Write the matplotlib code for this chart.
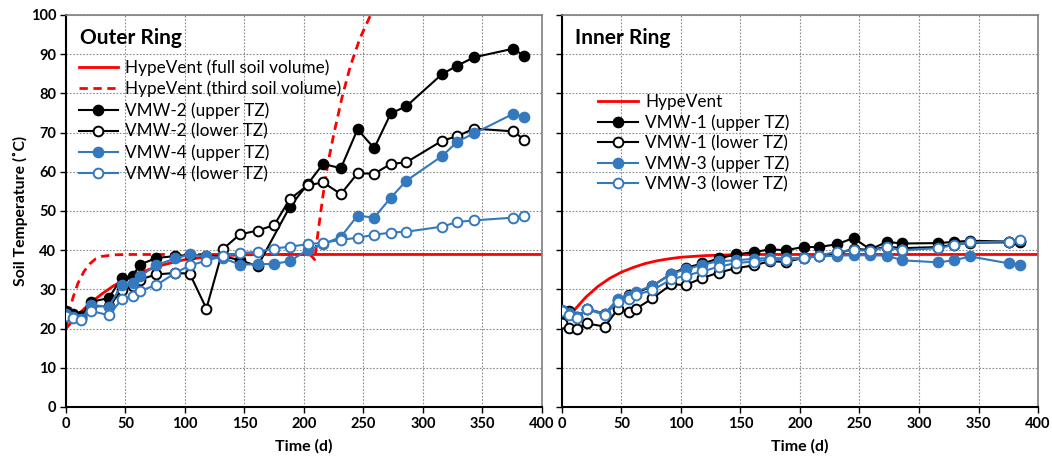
import matplotlib
matplotlib.use("Agg")
import matplotlib.pyplot as plt

plt.rcParams['font.family'] = ['Lato', 'DejaVu Sans']

# sampling days (same for every monitoring well)
days = [0, 6, 13, 21, 36, 47, 56, 62, 76, 92, 104, 118, 132, 146, 161, 175, 188,
        203, 216, 231, 245, 259, 273, 286, 316, 329, 343, 376, 385]

# ---- Outer ring ----
vmw2_upper_days = [0, 6, 13, 21, 36, 47, 56, 62, 76, 92, 104, 118, 132, 146, 161, 188,
                   203, 216, 231, 245, 259, 273, 286, 316, 329, 343, 376, 385]
vmw2_upper = [24.5, 23.8, 23.2, 26.8, 27.8, 33.0, 33.3, 36.3, 38.0, 38.5, 38.8, 38.6, 38.4,
              37.5, 35.9, 51.0, 56.8, 62.0, 60.9, 70.8, 66.0, 74.9, 76.7, 84.9, 87.1,
              89.2, 91.4, 89.5]
vmw2_lower = [23.8, 23.2, 22.8, 25.7, 25.7, 29.8, 30.8, 32.5, 33.8, 34.2, 34.0, 25.1, 40.3,
              44.0, 45.0, 46.4, 53.0, 56.5, 57.3, 54.3, 59.6, 59.5, 62.0, 62.4, 67.9, 69.1,
              71.0, 70.3, 68.2]
vmw4_upper = [23.8, 23.0, 22.5, 26.0, 25.6, 31.2, 31.5, 33.3, 36.2, 37.9, 38.9, 38.4, 38.0,
              36.3, 36.4, 36.5, 37.2, 40.0, 41.5, 43.4, 48.8, 48.3, 53.4, 57.7, 64.0, 67.7,
              69.8, 74.8, 73.9]
vmw4_lower = [23.2, 22.8, 22.3, 24.5, 23.4, 27.5, 28.3, 29.6, 31.1, 34.2, 36.1, 37.3, 38.5,
              39.2, 39.6, 40.4, 40.9, 41.5, 41.9, 42.6, 43.2, 43.9, 44.5, 44.7, 46.0, 47.2,
              47.6, 48.3, 48.8]

# HypeVent model curves
outer_full_days = [0, 10, 20, 30, 40, 50, 60, 70, 80, 90, 100, 120, 140, 160, 400]
outer_full = [20.0, 23.5, 26.4, 28.8, 30.9, 32.5, 33.9, 35.1, 36.1, 36.9, 37.6, 38.3, 38.7,
              38.9, 38.9]
outer_third_days = [0, 3, 6, 10, 15, 20, 25, 30, 40, 50, 205, 209, 212, 216, 220, 225,
                    232, 239, 247, 256, 262]
outer_third = [20.0, 24.5, 28.0, 31.5, 34.5, 36.5, 37.8, 38.4, 38.8, 38.9, 38.9, 37.6,
               45.0, 54.0, 62.0, 69.5, 79.0, 87.0, 94.0, 100.0, 104.0]

# ---- Inner ring ----
vmw1_upper = [24.3, 24.5, 23.0, 25.0, 23.8, 27.3, 28.5, 29.0, 30.9, 34.0, 35.5, 36.6, 37.9,
              38.9, 39.5, 40.2, 40.0, 40.8, 40.8, 41.5, 43.1, 40.2, 42.1, 41.7, 41.8, 42.1,
              42.4, 42.2, 42.0]
vmw1_lower = [21.5, 20.2, 20.0, 21.3, 20.5, 25.0, 24.3, 25.0, 27.7, 31.3, 31.1, 32.9, 34.3,
              35.4, 36.1, 37.2, 37.0, 38.0, 38.5, 39.0, 40.4, 40.0, 40.9, 40.5, 40.8, 41.4,
              41.9, 42.0, 42.4]
vmw3_upper = [24.8, 24.0, 23.0, 25.0, 23.8, 27.6, 28.4, 29.4, 30.9, 34.0, 35.1, 36.3, 37.2,
              37.4, 37.8, 38.0, 37.9, 38.0, 38.4, 38.6, 38.7, 38.7, 38.6, 37.4, 36.9, 37.4,
              38.4, 36.6, 36.2]
vmw3_lower = [24.5, 23.5, 22.6, 24.9, 23.5, 26.8, 27.5, 28.6, 29.8, 32.6, 33.5, 34.6, 35.8,
              36.7, 37.1, 37.6, 37.5, 37.9, 38.6, 39.6, 40.0, 39.9, 40.7, 40.0, 40.5, 41.3,
              42.0, 42.2, 42.6]

inner_days = [0, 10, 20, 30, 40, 50, 60, 70, 80, 90, 100, 120, 140, 160, 400]
inner_model = [20.3, 24.6, 28.0, 30.7, 32.8, 34.4, 35.6, 36.6, 37.3, 37.8, 38.2, 38.6,
               38.8, 38.9, 38.9]

RED = '#FF0000'
BLUE = '#3478BE'
BLACK = '#000000'

fig = plt.figure(figsize=(10.52, 4.58), dpi=100)
ax1 = fig.add_axes([0.0627, 0.1114, 0.4525, 0.856])
ax2 = fig.add_axes([0.5342, 0.1114, 0.4525, 0.856])


def well(ax, x, y, color, filled, label):
    ax.plot(x, y, color=color, lw=1.5, marker='o', ms=7,
            mfc=color if filled else 'white', mec=color, mew=1.4, label=label, zorder=3)


def style(ax, show_y):
    ax.set_xlim(0, 400)
    ax.set_ylim(0, 100)
    ax.set_xticks(range(0, 401, 50))
    ax.set_yticks(range(0, 101, 10))
    ax.grid(True, color='#8c8c8c', linestyle=(0, (1.5, 1.5)), linewidth=0.8)
    ax.set_axisbelow(True)
    for s in ['left', 'bottom']:
        ax.spines[s].set_linewidth(1.5)
        ax.spines[s].set_color('black')
    for s in ['top', 'right']:
        ax.spines[s].set_linewidth(1.2)
        ax.spines[s].set_color('#7f7f7f')
    ax.tick_params(direction='out', length=4, width=1, labelsize=10.5, pad=3)
    for lab in ax.get_xticklabels() + ax.get_yticklabels():
        lab.set_fontweight('bold')
    if not show_y:
        ax.tick_params(axis='y', labelleft=False)
    ax.set_xlabel('Time (d)', fontsize=11.5, fontweight='bold', labelpad=6)


leg_kw = dict(loc='upper left', frameon=False, fontsize=12.3, handlelength=2.3,
              handletextpad=0.45, borderaxespad=0.0)

# Outer ring
ax1.plot(outer_full_days, outer_full, color=RED, lw=2, label='HypeVent (full soil volume)', zorder=2)
ax1.plot(outer_third_days, outer_third, color=RED, lw=2, ls=(0, (3, 2)),
         label='HypeVent (third soil volume)', zorder=2)
well(ax1, vmw2_upper_days, vmw2_upper, BLACK, True, 'VMW-2 (upper TZ)')
well(ax1, days, vmw2_lower, BLACK, False, 'VMW-2 (lower TZ)')
well(ax1, days, vmw4_upper, BLUE, True, 'VMW-4 (upper TZ)')
well(ax1, days, vmw4_lower, BLUE, False, 'VMW-4 (lower TZ)')
style(ax1, True)
ax1.set_ylabel('Soil Temperature (˚C)', fontsize=11.3, fontweight='bold', labelpad=2)
ax1.text(0.03, 0.94, 'Outer Ring', transform=ax1.transAxes, fontsize=15,
         fontweight='bold', va='center', ha='left')
ax1.legend(bbox_to_anchor=(0.012, 0.905), labelspacing=0.29, **leg_kw)

# Inner ring
ax2.plot(inner_days, inner_model, color=RED, lw=2, label='HypeVent', zorder=2)
well(ax2, days, vmw1_upper, BLACK, True, 'VMW-1 (upper TZ)')
well(ax2, days, vmw1_lower, BLACK, False, 'VMW-1 (lower TZ)')
well(ax2, days, vmw3_upper, BLUE, True, 'VMW-3 (upper TZ)')
well(ax2, days, vmw3_lower, BLUE, False, 'VMW-3 (lower TZ)')
style(ax2, False)
ax2.text(0.027, 0.94, 'Inner Ring', transform=ax2.transAxes, fontsize=15,
         fontweight='bold', va='center', ha='left')
ax2.legend(bbox_to_anchor=(0.062, 0.815), labelspacing=0.24, **leg_kw)

fig.savefig('out.png', dpi=100)
